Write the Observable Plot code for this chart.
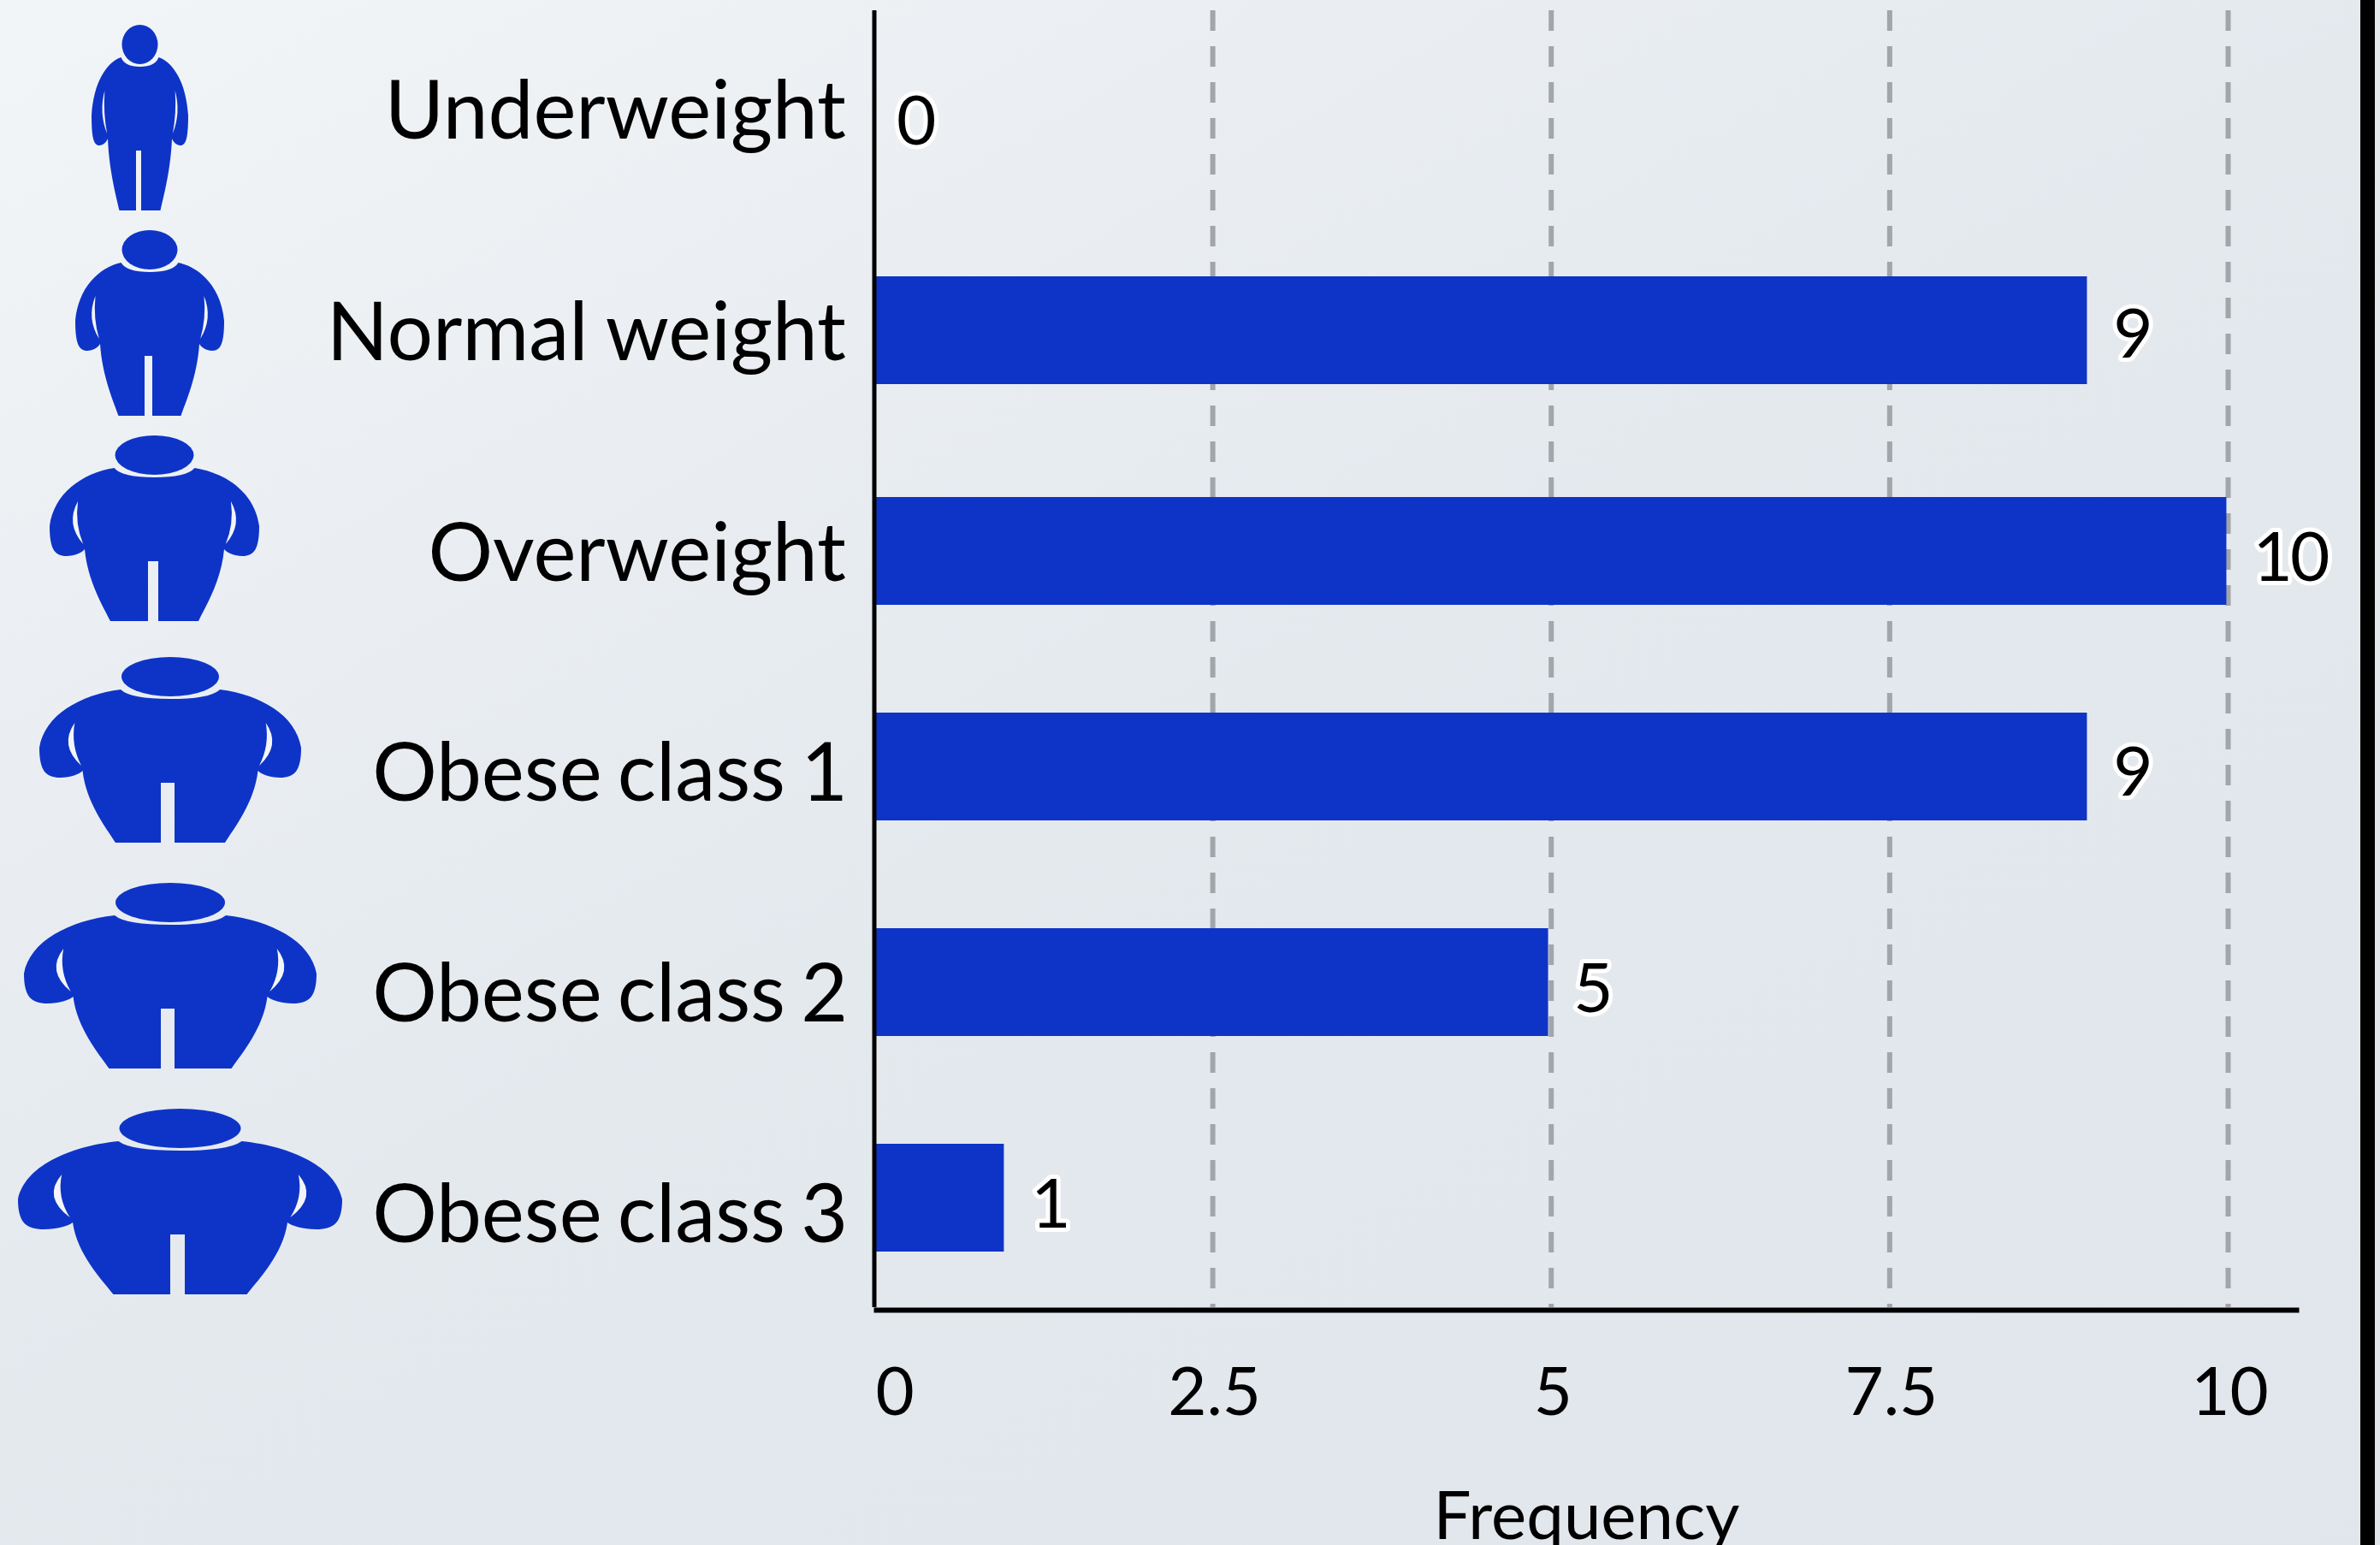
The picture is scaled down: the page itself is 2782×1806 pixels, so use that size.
<!DOCTYPE html>
<html>
<head>
<meta charset="utf-8">
<script src="https://cdn.jsdelivr.net/npm/d3@7"></script>
<script src="https://cdn.jsdelivr.net/npm/@observablehq/plot@0.6"></script>
<style>
  html, body { margin: 0; padding: 0; }
  body { width: 2782px; height: 1806px; overflow: hidden; position: relative;
         background: linear-gradient(150deg, #f2f5f7 0%, #eef1f4 16%, #e9edf1 30%, #e4e9ee 50%, #e1e6ec 100%); }
  #edge { position: absolute; left: 2759px; top: 0; width: 17px; height: 1806px; background: #000; }
  svg { display: block; }
  .tight-words { word-spacing: -6px; }
  .tight-word { word-spacing: -2px; }
  .tight-digits { letter-spacing: -3px; }
</style>
</head>
<body>
<div id="chart"></div>
<div id="edge"></div>
<script>
// Data
const categories = ["Underweight", "Normal weight", "Overweight", "Obese class 1", "Obese class 2", "Obese class 3"];
const frequency  = [0, 9, 10, 9, 5, 1];            // printed value labels
const barLengths = [0, 8.96, 9.99, 8.96, 4.98, 0.96]; // drawn bar ends
const xTicks = [2.5, 5, 7.5, 10];

const rows = categories.map((category, i) => ({category, frequency: frequency[i], length: barLengths[i]}));

// Layout tweaks (the reference rows are not evenly spaced)
const barNudge    = [0, -6, 0, 0, 0, 0];
const valueNudge  = [3, 0, 9, 8, 9, 9];
const valueShift  = [26, 24, 29, 24, 26, 25];
const labelNudge  = [-9, -2, 4, 9, 15, 21];
const labelShift  = [-33, -33, -33, -31, -31, -31];
const labelClass  = [undefined, "tight-word", undefined, "tight-words", "tight-words", "tight-words"];

// Pictogram proportions, measured per row
const iconCx    = [163.5, 175, 180.5, 199, 199, 210.5];
const iconTop   = [29, 269, 509, 768, 1032, 1296];
const iconHead  = [21, 32.5, 46, 57, 64, 71];
const iconBody  = [56.5, 87, 122.5, 153, 171, 189.5];
const iconHip   = [37.5, 58, 81.5, 102.5, 113.5, 125.5];
const iconFoot  = [24, 36.5, 51.5, 64, 71.5, 78];
const iconGap   = [3, 4.5, 6, 8, 8, 8.5];
const iconGapAt = [-1.5, -1.5, -1.5, -3, -3, -3];

const BLUE = "#0e34c7";

function figure(W, N, A, F, G, at) {
  const p = v => v.toFixed(1);
  const m = v => (-v).toFixed(1);
  const g1 = (at + G).toFixed(1), g0 = (at - G).toFixed(1);
  return `M0,49 Q${p(N*0.8)},49 ${p(N)},38 ` +
    `C${p(N+0.5*(W-N))},44 ${p(W*0.96)},68 ${p(W)},106 ` +
    `C${p(W)},133 ${p(W*0.95)},141 ${p(W*0.84)},141 ` +
    `C${p(W*0.76)},141 ${p(A*1.04)},137 ${p(A)},133 ` +
    `C${p(A*0.96)},170 ${p(F+(A-F)*0.28)},200 ${p(F)},217 ` +
    `L${g1},217 L${g1},147 L${g0},147 L${g0},217 L${m(F)},217 ` +
    `C${m(F+(A-F)*0.28)},200 ${m(A*0.96)},170 ${m(A)},133 ` +
    `C${m(A*1.04)},137 ${m(W*0.76)},141 ${m(W*0.84)},141 ` +
    `C${m(W*0.95)},141 ${m(W)},133 ${m(W)},106 ` +
    `C${m(W*0.96)},68 ${m(N+0.5*(W-N))},44 ${m(N)},38 ` +
    `Q${m(N*0.8)},49 0,49 Z`;
}
function slit(W, s) {
  const x = v => (s * v * W).toFixed(1);
  return `M${x(0.73)},77 Q${x(0.85)},103 ${x(0.68)},127 Q${x(0.76)},103 ${x(0.73)},77 Z`;
}
function icons() {
  const g = d3.create("svg:g");
  categories.forEach((c, i) => {
    const t = g.append("g").attr("transform", `translate(${iconCx[i]},${iconTop[i]})`);
    t.append("ellipse").attr("cy", 23).attr("rx", iconHead[i]).attr("ry", 23).attr("fill", BLUE);
    t.append("path").attr("d", figure(iconBody[i], iconHead[i] + 1, iconHip[i], iconFoot[i], iconGap[i], iconGapAt[i])).attr("fill", BLUE);
    t.append("path").attr("d", slit(iconBody[i], 1)).attr("fill", "#f3f5f8");
    t.append("path").attr("d", slit(iconBody[i], -1)).attr("fill", "#f3f5f8");
  });
  return g.node();
}

const rowMarks = rows.flatMap((d, i) => [
  Plot.text([d], {
    x: () => 0, y: "category", text: "category", textAnchor: "end",
    dx: labelShift[i], dy: labelNudge[i], fontSize: 94.5, fill: "#000",
    className: labelClass[i]
  }),
  Plot.barX([d], {x: "length", y: "category", fill: BLUE, dy: barNudge[i]})
]);
const valueMarks = rows.map((d, i) => Plot.text([d], {
  x: "frequency", y: "category", text: d => String(d.frequency), textAnchor: "start",
  dx: valueShift[i], dy: valueNudge[i], fontSize: 80, fill: "#000",
  stroke: "#fff", strokeWidth: 10, paintOrder: "stroke", strokeLinejoin: "round",
  className: d.frequency >= 10 ? "tight-digits" : undefined
}));

const chart = Plot.plot({
  width: 2782,
  height: 1806,
  marginLeft: 1024,
  marginRight: 98,
  marginTop: 12,
  marginBottom: 275,
  style: {background: "transparent", fontFamily: "Lato"},
  x: {domain: [0, 10], range: [1021.5, 2604], label: "Frequency"},
  y: {domain: categories, range: [14, 1526], paddingInner: 0.5, paddingOuter: 0.25, axis: null},
  marks: [
    Plot.ruleX(xTicks, {stroke: "#a2a6aa", strokeWidth: 6, strokeDasharray: "24 18", insetBottom: 3}),
    ...rowMarks,
    Plot.ruleX([0], {stroke: "#000", strokeWidth: 5, insetBottom: 3}),
    Plot.frame({anchor: "bottom", stroke: "#000", strokeWidth: 6}),
    ...valueMarks,
    Plot.axisX(xTicks, {
      tickSize: 0, tickPadding: 67, dx: 2, fontSize: 78, fill: "#000",
      tickFormat: d => String(d), label: "Frequency", labelAnchor: "center",
      labelArrow: "none", labelOffset: 267
    }),
    Plot.axisX([0], {
      tickSize: 0, tickPadding: 67, dx: 24, fontSize: 78, fill: "#000",
      tickFormat: d => String(d), label: null
    }),
    icons
  ]
});
document.getElementById("chart").append(chart);
</script>
</body>
</html>
